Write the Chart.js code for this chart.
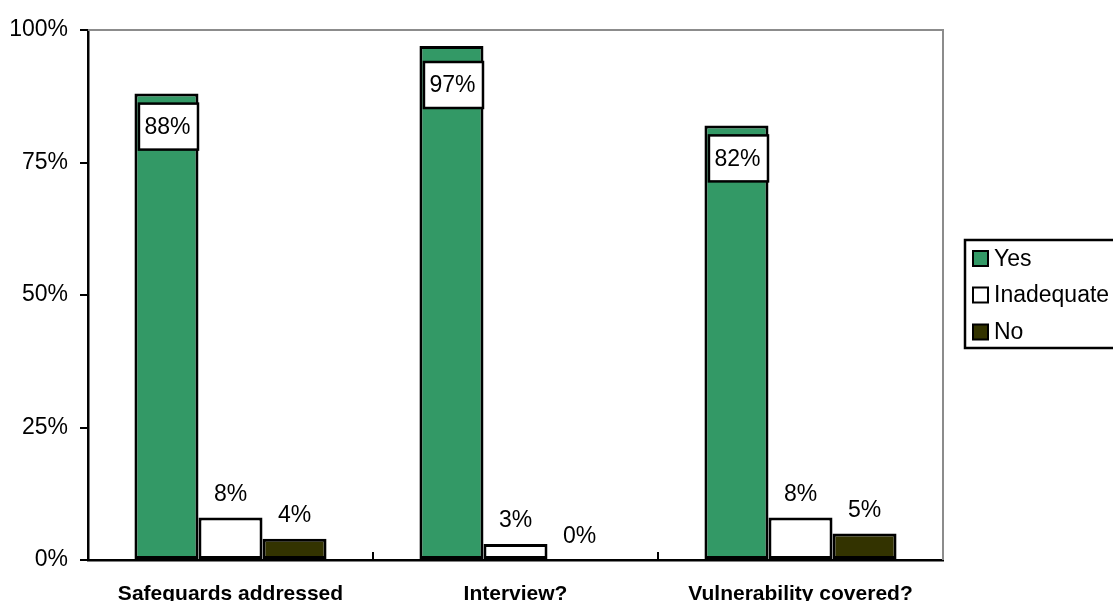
<!DOCTYPE html>
<html>
<head>
<meta charset="utf-8">
<script src="https://cdn.jsdelivr.net/npm/chart.js@4"></script>
<style>
  html, body { margin: 0; padding: 0; background: #fff; }
  #wrap { width: 1113px; height: 601px; position: relative; }
</style>
</head>
<body>
<div id="wrap"><canvas id="c"></canvas></div>
<script>
// Survey results per question
const categories = ['Safeguards addressed', 'Interview?', 'Vulnerability covered?'];
const seriesNames = ['Yes', 'Inadequate', 'No'];
const yesValues = [88, 97, 82];
const inadequateValues = [8, 3, 8];
const noValues = [4, 0, 5];
const yTicks = [0, 25, 50, 75, 100];

const seriesColors = ['#339966', '#ffffff', '#333300'];
const FONT = '"Liberation Sans", Arial, sans-serif';

// Value labels: boxed inside the bar top for "Yes", plain above the bar otherwise
const valueLabels = {
  id: 'valueLabels',
  afterDatasetsDraw(chart) {
    const ctx = chart.ctx;
    const top = chart.chartArea.top;
    ctx.save();
    ctx.font = '23px ' + FONT;
    ctx.textAlign = 'center';
    ctx.textBaseline = 'middle';
    chart.data.datasets.forEach((ds, di) => {
      const meta = chart.getDatasetMeta(di);
      meta.data.forEach((bar, i) => {
        const v = ds.data[i];
        const txt = v + '%';
        if (di === 0) {
          const w = bar.width - 5;
          const h = 46;
          const cy = Math.max(bar.y + 33, top + 55);
          const x0 = bar.x - w / 2 + 2;
          ctx.fillStyle = '#fff';
          ctx.fillRect(x0, cy - h / 2, w, h);
          ctx.lineWidth = 2.5;
          ctx.strokeStyle = '#000';
          ctx.strokeRect(x0, cy - h / 2, w, h);
          ctx.fillStyle = '#000';
          ctx.fillText(txt, bar.x + 1, cy + 1);
        } else {
          ctx.fillStyle = '#000';
          ctx.fillText(txt, bar.x, bar.y - 23);
        }
      });
    });
    ctx.restore();
  }
};

// Frame: grey top/right edges, inward ticks between categories, legend box
const frame = {
  id: 'frame',
  afterDraw(chart) {
    const ctx = chart.ctx;
    const a = chart.chartArea;
    const xs = chart.scales.x;
    ctx.save();
    ctx.strokeStyle = '#8c8c8c';
    ctx.lineWidth = 2;
    ctx.beginPath();
    ctx.moveTo(a.left, a.top);
    ctx.lineTo(a.right, a.top);
    ctx.lineTo(a.right, a.bottom);
    ctx.stroke();

    ctx.strokeStyle = '#000';
    ctx.lineWidth = 2;
    for (let i = 0; i < categories.length - 1; i++) {
      const bx = Math.round((xs.getPixelForTick(i) + xs.getPixelForTick(i + 1)) / 2);
      ctx.beginPath();
      ctx.moveTo(bx, a.bottom);
      ctx.lineTo(bx, a.bottom - 8);
      ctx.stroke();
    }

    // legend
    const lx = 965, ly = 240, lh = 108;
    ctx.lineWidth = 2.5;
    ctx.strokeStyle = '#000';
    ctx.strokeRect(lx, ly, 200, lh);
    ctx.font = '23px ' + FONT;
    ctx.textAlign = 'left';
    ctx.textBaseline = 'middle';
    const rows = [258.5, 295, 332];
    ctx.lineWidth = 2;
    chart.data.datasets.forEach((ds, di) => {
      const cy = rows[di];
      ctx.fillStyle = ds.backgroundColor;
      ctx.fillRect(973, cy - 7.5, 15, 15);
      ctx.strokeRect(973, cy - 7.5, 15, 15);
      ctx.fillStyle = '#000';
      ctx.fillText(ds.label, 994, cy + 1);
    });
    ctx.restore();
  }
};

const seriesValues = [yesValues, inadequateValues, noValues];

new Chart(document.getElementById('c'), {
  type: 'bar',
  data: {
    labels: categories,
    datasets: seriesNames.map((name, i) => ({
      label: name,
      data: seriesValues[i],
      backgroundColor: seriesColors[i],
      borderColor: '#000',
      borderWidth: 3,
      borderSkipped: false,
      categoryPercentage: 0.674,
      barPercentage: 1
    }))
  },
  options: {
    responsive: true,
    maintainAspectRatio: false,
    animation: false,
    layout: { padding: { top: 30, right: 170, left: 0, bottom: 0 } },
    plugins: {
      legend: { display: false },
      tooltip: { enabled: false }
    },
    scales: {
      x: {
        afterFit(s) { s.height = 41; },
        grid: { display: false, drawTicks: false },
        border: { display: true, color: '#000', width: 2.5 },
        ticks: {
          color: '#000',
          font: { family: FONT, size: 21, weight: 'bold' },
          padding: 22,
          maxRotation: 0,
          autoSkip: false
        }
      },
      y: {
        min: 0,
        max: 100,
        afterFit(s) { s.width = 88; },
        afterBuildTicks(s) { s.ticks = yTicks.map(v => ({ value: v })); },
        grid: {
          drawOnChartArea: false,
          drawTicks: true,
          tickLength: 8,
          tickColor: '#000',
          tickWidth: 2,
          lineWidth: 2,
          color: '#000'
        },
        border: { display: true, color: '#000', width: 2.5 },
        ticks: {
          color: '#000',
          font: { family: FONT, size: 23 },
          padding: 12,
          callback: v => v + '%'
        }
      }
    }
  },
  plugins: [valueLabels, frame]
});
</script>
</body>
</html>
